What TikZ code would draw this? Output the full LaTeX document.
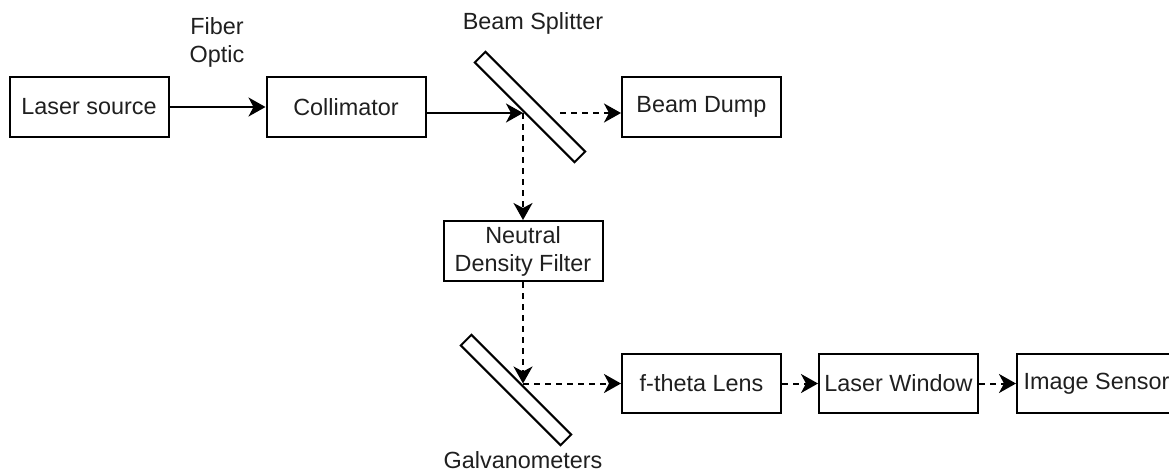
\documentclass[tikz,border=0pt]{standalone}
\usepackage{fontspec}
\setmainfont{Liberation Sans}
\usetikzlibrary{arrows.meta}
\begin{document}
\begin{tikzpicture}[x=1pt,y=-1pt,
  every node/.style={font=\fontsize{23.4}{28}\selectfont, text=black!88},
  box/.style={draw=black, line width=2pt, minimum width=159pt, minimum height=60pt, inner sep=0pt, align=center},
  mirror/.style={draw=black, line width=2pt, minimum width=141pt, minimum height=15pt, inner sep=0pt, rotate=-45},
  lbl/.style={align=center, inner sep=0pt},
  beam/.style={line width=2pt, -{Stealth[length=17pt,width=19pt,inset=5pt]}},
  dbeam/.style={beam, dash pattern=on 6pt off 5pt}]
\clip (0,0) rectangle (1169,472);
\node[box] (laser) at (89,107) {Laser source};
\node[box] (coll) at (346,107) {Collimator};
\node[box] (dump) at (701.5,107) {Beam Dump};
\node[mirror] (split) at (530,107) {};
\node[box] (nd) at (523,251) {Neutral\\Density Filter};
\node[mirror] (galvo) at (516,390) {};
\node[box, minimum height=59pt] (ftheta) at (701.5,383.5) {f-theta Lens};
\node[box, minimum height=59pt] (window) at (898.5,383.5) {Laser Window};
\node[box, minimum height=59pt] (sensor) at (1096.5,383.5) {Image Sensor};
\node[lbl] (fiber) at (217,42) {Fiber\\Optic};
\node[lbl] (bslbl) at (533,23) {Beam Splitter};
\node[lbl] (galvolbl) at (523,460) {Galvanometers};
\coordinate (bsHit) at (523,113);
\coordinate (bsOut) at (560,113);
\coordinate (galvoHit) at (523,383.5);
\draw[beam] (laser.east) -- (coll.west);
\draw[beam] (coll.east |- bsHit) -- (bsHit);
\draw[dbeam] (bsOut) -- (dump.west |- bsOut);
\draw[dbeam] (bsHit) -- (nd.north);
\draw[dbeam] (nd.south) -- (galvoHit);
\draw[dbeam] (galvoHit) -- (ftheta.west);
\draw[dbeam] (ftheta.east) -- (window.west);
\draw[dbeam] (window.east) -- (sensor.west);
\end{tikzpicture}
\end{document}
